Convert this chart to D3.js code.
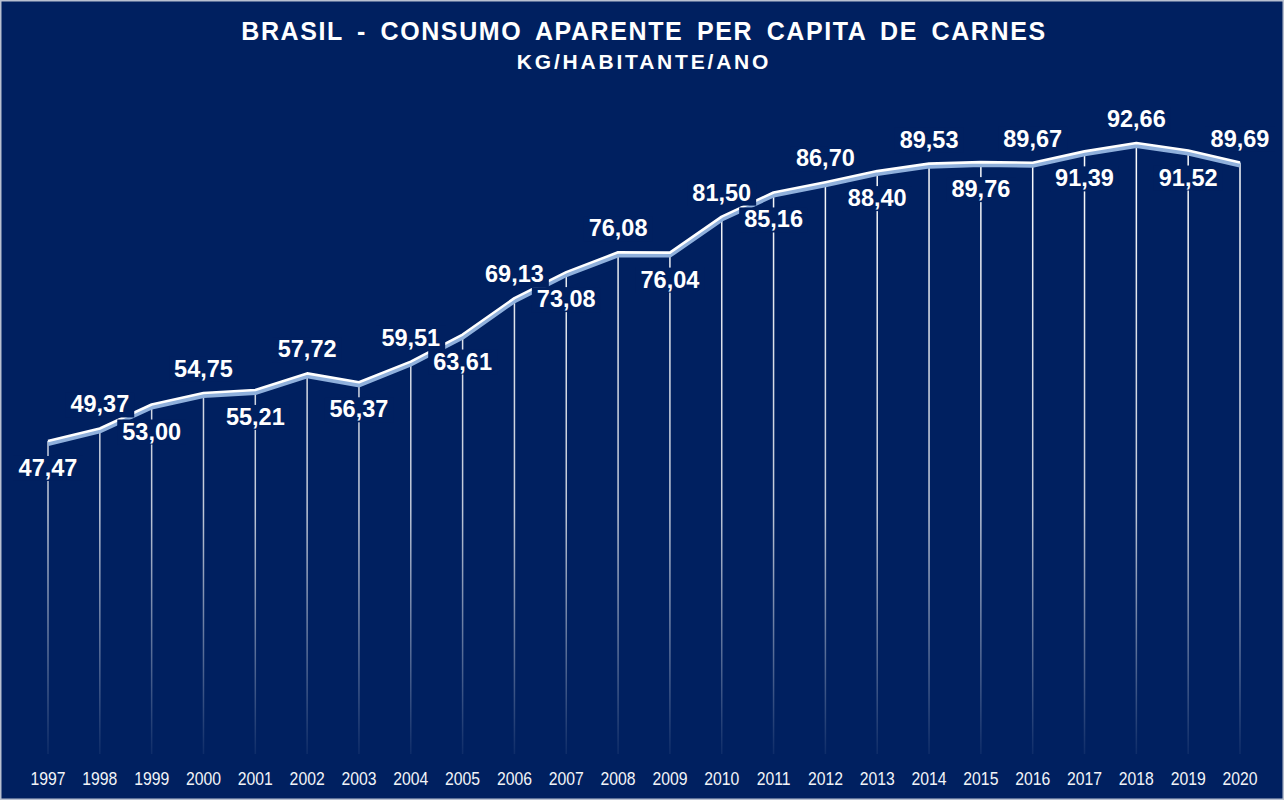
<!DOCTYPE html>
<html>
<head>
<meta charset="utf-8">
<script src="https://cdn.jsdelivr.net/npm/d3@7"></script>
<style>
  html, body { margin: 0; padding: 0; background: #ffffff; }
  svg { display: block; }
</style>
</head>
<body>
<script>
// consumo aparente per capita, kg/hab/ano
const years = [1997, 1998, 1999, 2000, 2001, 2002, 2003, 2004, 2005, 2006, 2007, 2008,
               2009, 2010, 2011, 2012, 2013, 2014, 2015, 2016, 2017, 2018, 2019, 2020];
const values = [47.47, 49.37, 53.00, 54.75, 55.21, 57.72, 56.37, 59.51, 63.61, 69.13, 73.08, 76.08,
                76.04, 81.50, 85.16, 86.70, 88.40, 89.53, 89.76, 89.67, 91.39, 92.66, 91.52, 89.69];
const titleLines = ['BRASIL - CONSUMO APARENTE PER CAPITA DE CARNES', 'KG/HABITANTE/ANO'];

const width = 1284, height = 800;
const bg = '#002060';

const data = years.map((y, i) => ({year: y, value: values[i], i: i}));

const x = d3.scalePoint()
  .domain(years)
  .range([48, 1240]);

const y = d3.scaleLinear()
  .domain([0, 92.66])
  .range([754, 143]);

const fmt = d3.formatLocale({decimal: ',', thousands: '.', grouping: [3], currency: ['', '']}).format('.2f');

const svg = d3.select('body').append('svg')
  .attr('width', width)
  .attr('height', height);

const defs = svg.append('defs');
const grad = defs.append('linearGradient')
  .attr('id', 'drop')
  .attr('gradientUnits', 'userSpaceOnUse')
  .attr('x1', 0).attr('x2', 0)
  .attr('y1', 140).attr('y2', 756);
grad.append('stop').attr('offset', '0%').attr('stop-color', '#ffffff').attr('stop-opacity', 1);
grad.append('stop').attr('offset', '60%').attr('stop-color', '#ffffff').attr('stop-opacity', 0.75);
grad.append('stop').attr('offset', '100%').attr('stop-color', '#ffffff').attr('stop-opacity', 0.05);

// background + thin frame
svg.append('rect')
  .attr('x', 0.5).attr('y', 0.5)
  .attr('width', width - 1).attr('height', height - 1)
  .attr('fill', bg)
  .attr('stroke', '#b8c0d0')
  .attr('stroke-width', 2);

// title
svg.append('text')
  .attr('x', 644).attr('y', 40)
  .attr('text-anchor', 'middle')
  .attr('fill', 'white')
  .attr('font-family', 'Liberation Sans, Arial, sans-serif')
  .attr('font-weight', 'bold')
  .attr('font-size', 25)
  .attr('letter-spacing', 1.6)
  .attr('word-spacing', 5)
  .text(titleLines[0]);

svg.append('text')
  .attr('x', 644).attr('y', 69)
  .attr('text-anchor', 'middle')
  .attr('fill', 'white')
  .attr('font-family', 'Liberation Sans, Arial, sans-serif')
  .attr('font-weight', 'bold')
  .attr('font-size', 21)
  .attr('letter-spacing', 2.8)
  .text(titleLines[1]);

// vertical drop lines
svg.append('g')
  .selectAll('line')
  .data(data)
  .join('line')
    .attr('x1', d => x(d.year))
    .attr('x2', d => x(d.year))
    .attr('y1', d => y(d.value))
    .attr('y2', y(0))
    .attr('stroke', 'url(#drop)')
    .attr('stroke-width', 1.5);

const line = d3.line()
  .x(d => x(d.year))
  .y(d => y(d.value));

// ribbon: light-blue shade under a white edge
svg.append('path')
  .attr('d', line(data))
  .attr('transform', 'translate(0,2.5)')
  .attr('fill', 'none')
  .attr('stroke', '#8fb0dc')
  .attr('stroke-width', 5);

svg.append('path')
  .attr('d', line(data))
  .attr('fill', 'none')
  .attr('stroke', '#ffffff')
  .attr('stroke-width', 2.6)
  .attr('stroke-linejoin', 'round');

// value labels, alternate below / above
const labels = svg.append('g')
  .selectAll('g')
  .data(data)
  .join('g')
    .attr('transform', d => `translate(${x(d.year)},${d.i % 2 === 0 ? y(d.value) + 35 : y(d.value) - 16})`);

const texts = labels.append('text')
  .attr('text-anchor', 'middle')
  .attr('fill', 'white')
  .attr('font-family', 'Liberation Sans, Arial, sans-serif')
  .attr('font-weight', 'bold')
  .attr('font-size', 23.5)
  .text(d => fmt(d.value));

texts.each(function() {
  const b = this.getBBox();
  d3.select(this.parentNode).insert('rect', 'text')
    .attr('x', b.x - 5)
    .attr('y', b.y + 1)
    .attr('width', b.width + 10)
    .attr('height', b.height - 1)
    .attr('fill', bg);
});

// year axis (narrow look)
svg.append('g')
  .selectAll('text')
  .data(years)
  .join('text')
    .attr('transform', d => `translate(${x(d)},785) scale(0.83,1)`)
    .attr('text-anchor', 'middle')
    .attr('fill', '#f2f4f8')
    .attr('font-family', 'Liberation Sans, Arial, sans-serif')
    .attr('font-size', 19)
    .text(d => d);
</script>
</body>
</html>
